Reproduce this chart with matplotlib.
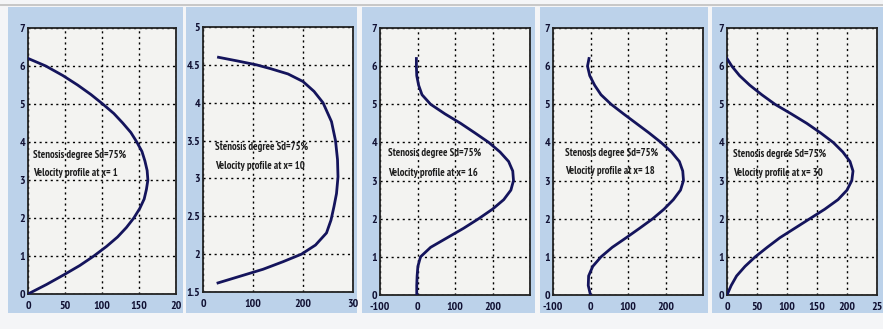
import matplotlib
matplotlib.use("Agg")
import matplotlib.pyplot as plt
from matplotlib import font_manager
from matplotlib.patches import Rectangle

# --- data: height y and velocity u for each station ---
y_x1 = [0, 0.25, 0.5, 0.75, 1, 1.25, 1.5, 1.75, 2, 2.25, 2.5, 2.75, 3, 3.25,
        3.5, 3.75, 4, 4.25, 4.5, 4.75, 5, 5.25, 5.5, 5.75, 6, 6.2]
u_x1 = [0, 25, 48, 70, 89, 106, 121, 133, 143, 151, 157, 160, 162, 161,
        158, 154, 147, 139, 128, 116, 101, 85, 67, 47, 24, 0]

y_x10 = [1.62, 1.7, 1.8, 1.9, 2.0, 2.12, 2.28, 2.45, 2.63, 2.8, 3.02, 3.25,
         3.5, 3.75, 4.0, 4.15, 4.28, 4.38, 4.45, 4.5, 4.55, 4.6]
u_x10 = [30, 70, 120, 160, 197, 225, 247, 256, 262, 267, 270, 269,
         265, 257, 240, 222, 200, 170, 135, 107, 70, 31]

y_x16 = [0, 0.25, 0.5, 0.75, 1, 1.25, 1.5, 1.75, 2, 2.25, 2.5, 2.75, 3, 3.25,
         3.5, 3.75, 4, 4.25, 4.5, 4.75, 5, 5.25, 5.5, 5.75, 6, 6.2]
u_x16 = [-2, -2, -1, 1, 8, 35, 79, 123, 163, 200, 230, 249, 256, 254,
         243, 220, 190, 153, 115, 73, 35, 12, 3, -2, -3, -3]

y_x18 = [0, 0.25, 0.5, 0.75, 1, 1.25, 1.5, 1.75, 2, 2.25, 2.5, 2.75, 3, 3.25,
         3.5, 3.75, 4, 4.25, 4.5, 4.75, 5, 5.25, 5.5, 5.75, 6, 6.2]
u_x18 = [0, -6, -5, 6, 28, 58, 95, 131, 166, 196, 221, 240, 248, 246,
         237, 216, 188, 156, 122, 88, 55, 28, 11, -2, -8, -4]

y_x30 = [0, 0.25, 0.5, 0.75, 1, 1.25, 1.5, 1.75, 2, 2.25, 2.5, 2.75, 3, 3.25,
         3.5, 3.75, 4, 4.25, 4.5, 4.75, 5, 5.25, 5.5, 5.75, 6, 6.2]
u_x30 = [0, 7, 16, 30, 47, 67, 88, 113, 138, 163, 185, 200, 208, 210,
         205, 193, 177, 156, 133, 107, 80, 58, 38, 21, 8, 0]

stations = ["1", "10", "16", "18", "30"]
profiles = [(u_x1, y_x1), (u_x10, y_x10), (u_x16, y_x16), (u_x18, y_x18), (u_x30, y_x30)]
xlims = [(0, 200), (0, 300), (-100, 300), (-100, 300), (0, 250)]
ylims = [(0, 7), (1.5, 5), (0, 7), (0, 7), (0, 7)]
xticks = [[0, 50, 100, 150, 200], [0, 100, 200, 300], [-100, 0, 100, 200, 300],
          [-100, 0, 100, 200, 300], [0, 50, 100, 150, 200, 250]]
xtick_labels = [["0", "50", "100", "150", "20"],
                ["0", "100", "200", "30"],
                ["-100", "0", "100", "200", ""],
                ["-100", "0", "100", "200", ""],
                ["0", "50", "100", "150", "200", "25"]]
yticks = [[0, 1, 2, 3, 4, 5, 6, 7], [1.5, 2, 2.5, 3, 3.5, 4, 4.5, 5],
          [0, 1, 2, 3, 4, 5, 6, 7], [0, 1, 2, 3, 4, 5, 6, 7], [0, 1, 2, 3, 4, 5, 6, 7]]

# annotation placement in axes fraction
text_x = [0.034, 0.08, 0.053, 0.08, 0.04]
text_y = [0.489, 0.51, 0.494, 0.498, 0.494]

W, H = 883, 329
plt.rcParams["font.family"] = ["Liberation Sans", "DejaVu Sans"]

# a narrow bold face looks closest to the MATLAB screenshot, if one is installed
narrow = None
for f in font_manager.fontManager.ttflist:
    fn = f.fname.lower()
    if ("narrow" in fn or "condensed" in fn) and "bold" in fn and "oblique" not in fn and "italic" not in fn:
        narrow = f.fname
        if "narrow" in fn:
            break


def fp(size):
    if narrow:
        return font_manager.FontProperties(fname=narrow, size=size)
    return font_manager.FontProperties(family=["Liberation Sans", "DejaVu Sans"],
                                       weight="bold", size=size * 0.75)


fig = plt.figure(figsize=(W / 100, H / 100), dpi=100)
fig.patch.set_facecolor("#f4f5f7")

# blue panel backgrounds (pixels: left, right)
panels = [(8, 183), (186, 357), (362, 535), (540, 708), (712, 883)]
for l, r in panels:
    fig.patches.append(Rectangle((l / W, 1 - 313 / H), (r - l) / W, (313 - 7) / H,
                                 transform=fig.transFigure, facecolor="#bcd2ea",
                                 edgecolor="none", zorder=-5))
fig.patches.append(Rectangle((0, 1 - 6 / H), 1, 1.5 / H, transform=fig.transFigure,
                             facecolor="#c8c8c8", edgecolor="none", zorder=-5))

# axes boxes (pixels: left, right, top, bottom)
boxes = [(28, 176, 28, 294), (203, 353, 27, 292), (380, 530, 28, 295),
         (553, 703, 28, 295), (727, 877, 28, 295)]

for i, (l, r, t, b) in enumerate(boxes):
    ax = fig.add_axes([l / W, 1 - b / H, (r - l) / W, (b - t) / H])
    ax.set_zorder(2)
    ax.set_facecolor("#f3f3f1")
    u, y = profiles[i]
    ax.plot(u, y, color="#14145c", linewidth=2.0, zorder=3)
    ax.set_xlim(*xlims[i])
    ax.set_ylim(*ylims[i])
    ax.set_xticks(xticks[i])
    ax.set_xticklabels(xtick_labels[i])
    ax.set_yticks(yticks[i])
    ax.set_yticklabels([("%g" % v) for v in yticks[i]])
    ax.grid(True, color="black", linestyle=(0, (1.5, 2.5)), linewidth=1.0)
    ax.tick_params(length=0, colors="#111133")
    ax.tick_params(axis="x", pad=5)
    ax.tick_params(axis="y", pad=2)
    for lab in ax.get_xticklabels() + ax.get_yticklabels():
        lab.set_fontproperties(fp(8.5))
    for s in ax.spines.values():
        s.set_linewidth(1.3)
        s.set_color("#222222")
    ax.text(text_x[i], text_y[i],
            "Stenosis degree Sd=75%\nVelocity profile at x= " + stations[i],
            transform=ax.transAxes, fontproperties=fp(7.6),
            color="#1e1e1e", linespacing=2.1, va="center", ha="left")

fig.savefig("out.png", dpi=100, facecolor=fig.get_facecolor())
